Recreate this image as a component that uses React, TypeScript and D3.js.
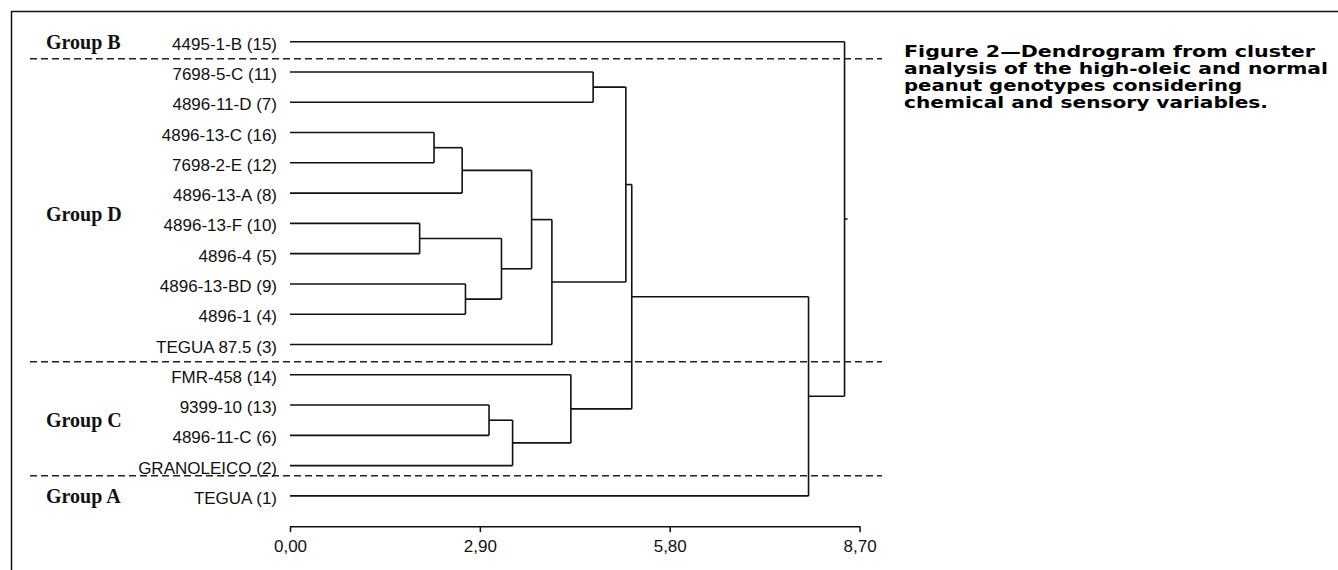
import React, { useEffect, useRef } from 'react';
import * as d3 from 'd3';

// leaf order, top to bottom
const leaves = [
  '4495-1-B (15)',
  '7698-5-C (11)',
  '4896-11-D (7)',
  '4896-13-C (16)',
  '7698-2-E (12)',
  '4896-13-A (8)',
  '4896-13-F (10)',
  '4896-4 (5)',
  '4896-13-BD (9)',
  '4896-1 (4)',
  'TEGUA 87.5 (3)',
  'FMR-458 (14)',
  '9399-10 (13)',
  '4896-11-C (6)',
  'GRANOLEICO (2)',
  'TEGUA (1)',
];

const groupNames = ['Group B', 'Group D', 'Group C', 'Group A'];
const groupSizes = [1, 10, 4, 1];

// [id, childA, childB, distance]
const merges: [string, string, string, number][] = [
  ['n1', '7698-5-C (11)', '4896-11-D (7)', 4.63],
  ['n2', '4896-13-C (16)', '7698-2-E (12)', 2.2],
  ['n3', 'n2', '4896-13-A (8)', 2.63],
  ['n4', '4896-13-F (10)', '4896-4 (5)', 1.98],
  ['n5', '4896-13-BD (9)', '4896-1 (4)', 2.68],
  ['n6', 'n4', 'n5', 3.23],
  ['n7', 'n3', 'n6', 3.69],
  ['n8', 'n7', 'TEGUA 87.5 (3)', 4.0],
  ['n9', 'n1', 'n8', 5.13],
  ['n10', '9399-10 (13)', '4896-11-C (6)', 3.04],
  ['n11', 'n10', 'GRANOLEICO (2)', 3.4],
  ['n12', 'FMR-458 (14)', 'n11', 4.29],
  ['n13', 'n9', 'n12', 5.22],
  ['n14', 'n13', 'TEGUA (1)', 7.92],
  ['n15', '4495-1-B (15)', 'n14', 8.47],
];

const axisTicks = [0, 2.9, 5.8, 8.7];

const captionLines = [
  'Figure 2\u2014Dendrogram from cluster',
  'analysis of the high-oleic and normal',
  'peanut genotypes considering',
  'chemical and sensory variables.',
];
const captionWidths = [411, 424, 338, 364];

const W = 1338;
const H = 570;

type TNode = { id: string; h: number; children?: TNode[] };

const App = () => {
  const svgRef = useRef<SVGSVGElement>(null);

  useEffect(() => {
    document.body.style.margin = '0';
    const svg = d3.select(svgRef.current);
    svg.selectAll('*').remove();

    const x = d3.scaleLinear().domain([0, 8.7]).range([290, 859.6]);
    const y = d3.scalePoint<string>().domain(leaves).range([41.7, 495.9]);
    const step = y.step();

    // build tree from merge list
    const nodes = new Map<string, TNode>();
    leaves.forEach(l => nodes.set(l, { id: l, h: 0 }));
    merges.forEach(([id, a, b, h]) => {
      nodes.set(id, { id, h, children: [nodes.get(a)!, nodes.get(b)!] });
    });
    const root = d3.hierarchy(nodes.get(merges[merges.length - 1][0])!);
    const ypos = new Map<any, number>();
    root.eachAfter(n => {
      if (!n.children) ypos.set(n, y(n.data.id)!);
      else ypos.set(n, d3.mean(n.children, c => ypos.get(c)!)!);
    });

    // frame
    svg.append('path')
      .attr('d', `M11.5,${H} V11.5 H${W}`)
      .attr('fill', 'none')
      .attr('stroke', '#111')
      .attr('stroke-width', 1.5);

    // group separators
    let acc = 0;
    groupSizes.slice(0, -1).forEach((size, i) => {
      acc += size;
      const mid = (y(leaves[acc - 1])! + y(leaves[acc])!) / 2;
      const yy = i === groupSizes.length - 2 ? mid - 5 : mid + 2;
      svg.append('line')
        .attr('x1', 30).attr('x2', 882)
        .attr('y1', yy).attr('y2', yy)
        .attr('stroke', '#222')
        .attr('stroke-width', 1.5)
        .attr('stroke-dasharray', '7 4');
    });

    // group labels
    acc = 0;
    groupNames.forEach((name, i) => {
      const first = y(leaves[acc])!;
      const last = y(leaves[acc + groupSizes[i] - 1])!;
      acc += groupSizes[i];
      svg.append('text')
        .attr('x', 46)
        .attr('y', (first + last) / 2 + (groupSizes[i] > 5 ? 13 : 7))
        .style('font-family', '"Liberation Serif", "Times New Roman", serif')
        .style('font-weight', 'bold')
        .style('font-size', '20px')
        .style('fill', '#111')
        .text(name);
    });

    // leaf labels
    svg.append('g').selectAll('text')
      .data(leaves)
      .enter().append('text')
      .attr('x', 277)
      .attr('y', d => y(d)! + 8)
      .attr('text-anchor', 'end')
      .style('font-family', '"Liberation Sans", Arial, sans-serif')
      .style('font-size', '17px')
      .style('fill', '#111')
      .text(d => d);

    // dendrogram links
    const g = svg.append('g')
      .attr('fill', 'none')
      .attr('stroke', '#111')
      .attr('stroke-width', 1.6);
    root.descendants().forEach(n => {
      if (!n.children) return;
      const nx = x(n.data.h);
      const ys = n.children.map(c => ypos.get(c)!);
      g.append('line')
        .attr('x1', nx).attr('x2', nx)
        .attr('y1', d3.min(ys)!).attr('y2', d3.max(ys)!);
      n.children.forEach(c => {
        const cy = ypos.get(c)!;
        g.append('line')
          .attr('x1', x(c.data.h)).attr('x2', nx)
          .attr('y1', cy).attr('y2', cy);
      });
    });
    // root stub
    g.append('line')
      .attr('x1', x(root.data.h)).attr('x2', x(root.data.h) + 3)
      .attr('y1', ypos.get(root)!).attr('y2', ypos.get(root)!);

    // axis
    const axisY = 495.9 + step;
    const axis = svg.append('g')
      .attr('transform', `translate(0,${axisY})`)
      .call(
        d3.axisBottom(x)
          .tickValues(axisTicks)
          .tickSize(6)
          .tickSizeOuter(0)
          .tickPadding(8)
          .tickFormat(d => (d as number).toFixed(2).replace('.', ','))
      );
    axis.select('.domain').attr('stroke', '#111').attr('stroke-width', 1.6);
    axis.selectAll('.tick line').attr('stroke', '#111').attr('stroke-width', 1.5);
    axis.selectAll('.tick text')
      .style('font-family', '"Liberation Sans", Arial, sans-serif')
      .style('font-size', '17px')
      .style('fill', '#111');

    // caption
    captionLines.forEach((line, i) => {
      svg.append('text')
        .attr('x', 904)
        .attr('y', 56.5 + i * 17)
        .attr('textLength', captionWidths[i])
        .attr('lengthAdjust', 'spacingAndGlyphs')
        .style('font-family', '"DejaVu Sans", sans-serif')
        .style('font-weight', 'bold')
        .style('font-size', '16.5px')
        .style('fill', '#000')
        .text(line);
    });
  }, []);

  return (
    <div style={{ width: W, height: H, background: '#fff' }}>
      <svg ref={svgRef} width={W} height={H} />
    </div>
  );
};

export default App;
